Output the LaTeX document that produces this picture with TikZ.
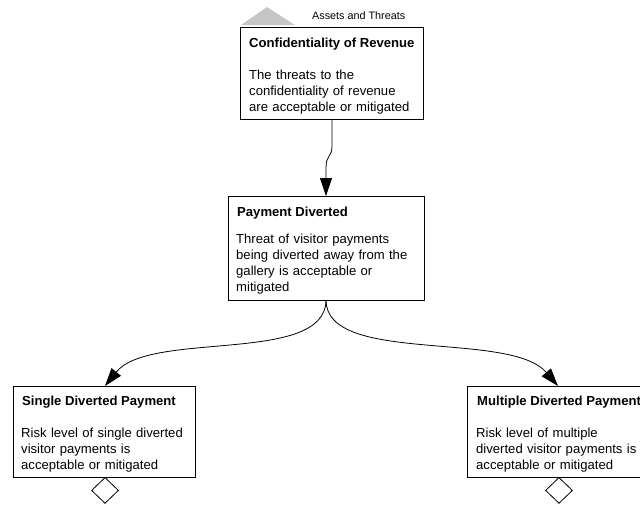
\documentclass[tikz,border=0pt]{standalone}
\usepackage{fontspec}
\setmainfont{Liberation Sans}
\usetikzlibrary{arrows.meta,shapes.geometric}
\begin{document}
\begin{tikzpicture}[x=1pt,y=-1pt,
  goalbox/.style={draw=black,line width=0.8pt,fill=white},
  title/.style={anchor=base west,inner sep=0pt,font=\fontsize{13.1}{16}\selectfont\bfseries},
  body/.style={anchor=base west,inner sep=0pt,align=left,text width=220pt,font=\fontsize{13.1}{16}\selectfont},
  link/.style={draw=black,line width=0.8pt,-{Triangle[length=18pt,width=12pt]}},
  gate/.style={shape=diamond,draw=black,line width=0.8pt,fill=white,minimum width=27pt,minimum height=26pt,inner sep=0pt}]
\useasboundingbox (0,0) rectangle (640,504);
\clip (0,0) rectangle (640,504);

% module marker above the top goal
\fill[gray!45] (241,25) -- (267,7) -- (295,25) -- cycle;
\node[anchor=base west,inner sep=0pt,font=\fontsize{10.8}{13}\selectfont] (mod) at (312,19.5) {Assets and Threats};

% goal boxes
\draw[goalbox] (240,27) rectangle (423,119);
\coordinate (g1s) at (332,119);
\node[title] (g1t) at (249,47) {Confidentiality of Revenue};
\node[body] (g1b) at (249,79) {The threats to the\\confidentiality of revenue\\are acceptable or mitigated};

\draw[goalbox] (228,196) rectangle (424,300);
\coordinate (g2n) at (326,196);
\coordinate (g2s) at (326,300);
\node[title] (g2t) at (237,216) {Payment Diverted};
\node[body] (g2b) at (236,243) {Threat of visitor payments\\being diverted away from the\\gallery is acceptable or\\mitigated};

\draw[goalbox] (13,386) rectangle (195,477);
\coordinate (g3n) at (105,386);
\node[title] (g3t) at (22,405) {Single Diverted Payment};
\node[body] (g3b) at (21,437) {Risk level of single diverted\\visitor payments is\\acceptable or mitigated};

\draw[goalbox] (467,386) rectangle (700,477);
\coordinate (g4n) at (558,386);
\node[title] (g4t) at (477,405) {Multiple Diverted Payment};
\node[body] (g4b) at (476,437) {Risk level of multiple\\diverted visitor payments is\\acceptable or mitigated};

% undeveloped markers
\node[gate,anchor=north] (d3) at (105,477) {};
\node[gate,anchor=north] (d4) at (559,477) {};

% connectors
\draw[link] (g1s) -- (332,146) .. controls (332,158) and (326,154) .. (326,168) -- (g2n);
\draw[link] (g2s) .. controls (326,365) and (150,330) .. (g3n);
\draw[link] (g2s) .. controls (326,365) and (510,330) .. (g4n);
\end{tikzpicture}
\end{document}
